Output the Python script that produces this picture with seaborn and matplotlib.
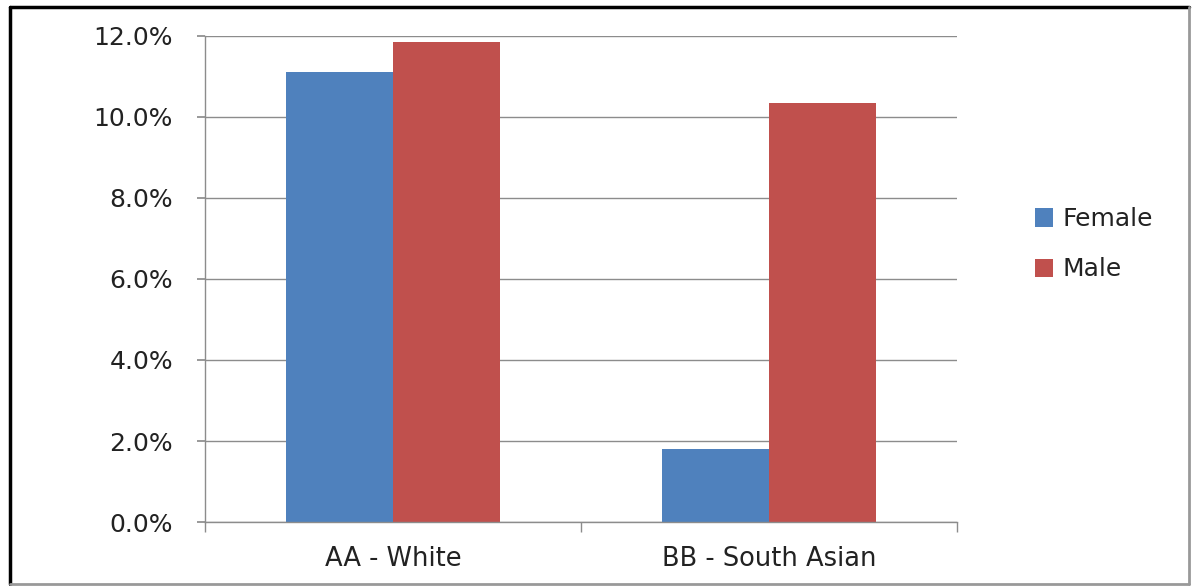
import matplotlib
matplotlib.use("Agg")
import matplotlib.pyplot as plt
import seaborn as sns
import pandas as pd
from matplotlib.ticker import PercentFormatter, MultipleLocator

categories = ["AA - White", "BB - South Asian"]
series = ["Female", "Male"]
female = [11.1, 1.8]
male = [11.85, 10.35]
colors = ["#4F81BD", "#C0504D"]

df = pd.DataFrame({
    "group": categories * 2,
    "sex": [series[0]] * 2 + [series[1]] * 2,
    "value": female + male,
})

sns.set_theme(style="white")
plt.rcParams['font.family'] = ['DejaVu Sans']

fig = plt.figure(figsize=(11.92, 5.86), dpi=100)
ax = fig.add_axes([0.172, 0.1092, 0.631, 0.8294])

sns.barplot(data=df, x="group", y="value", hue="sex", palette=colors,
            width=0.57, gap=0, ax=ax, saturation=1, errorbar=None,
            linewidth=0, edgecolor="none")

ax.set_ylim(0, 12)
ax.set_xlim(-0.5, 1.5)
ax.yaxis.set_major_locator(MultipleLocator(2))
ax.yaxis.set_major_formatter(PercentFormatter(decimals=1))
ax.yaxis.grid(True, color="#8c8c8c", linewidth=1)
ax.set_axisbelow(True)
ax.set_xlabel("")
ax.set_ylabel("")
for s in ["top", "right"]:
    ax.spines[s].set_visible(False)
for s in ["left", "bottom"]:
    ax.spines[s].set_color("#8c8c8c")
    ax.spines[s].set_linewidth(1)

ax.tick_params(axis="y", which="major", left=True, length=6, color="#8c8c8c",
               labelsize=18, labelcolor="#222222", pad=17)
ax.set_xticks([0, 1])
ax.set_xticklabels(categories)
ax.tick_params(axis="x", which="major", length=0, labelsize=18.5,
               labelcolor="#222222", pad=17)
ax.set_xticks([-0.5, 0.5, 1.5], minor=True)
ax.tick_params(axis="x", which="minor", bottom=True, length=7, color="#8c8c8c")

leg = ax.legend(loc="center left", bbox_to_anchor=(0.849, 0.583),
                bbox_transform=fig.transFigure, frameon=False, fontsize=18,
                handlelength=0.75, handleheight=0.75, handletextpad=0.35,
                labelspacing=1.05)
for t in leg.get_texts():
    t.set_color("#222222")

# figure frame
fig.add_artist(plt.Line2D([0.0085, 0.9975], [0.988, 0.988], color="black", lw=2.5, transform=fig.transFigure))
fig.add_artist(plt.Line2D([0.0085, 0.0085], [0.003, 0.988], color="black", lw=2.5, transform=fig.transFigure))
fig.add_artist(plt.Line2D([0.0085, 0.9975], [0.003, 0.003], color="#999999", lw=2, transform=fig.transFigure))
fig.add_artist(plt.Line2D([0.9975, 0.9975], [0.003, 0.988], color="#999999", lw=2, transform=fig.transFigure))

fig.savefig("out.png", dpi=100)
